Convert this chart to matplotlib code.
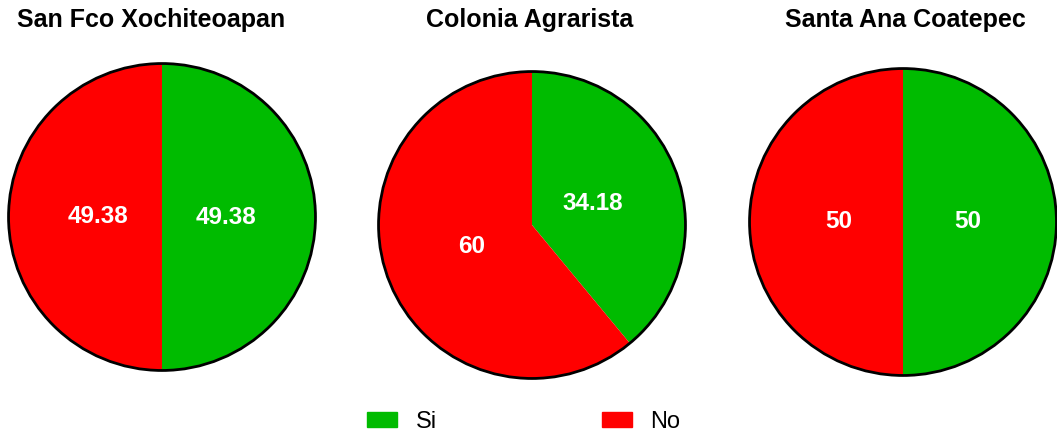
import matplotlib
matplotlib.use("Agg")
import matplotlib.pyplot as plt
from matplotlib.patches import Circle, Patch

plt.rcParams['font.family'] = ['Liberation Sans', 'DejaVu Sans']

# data
sites = ['San Fco Xochiteoapan', 'Colonia Agrarista', 'Santa Ana Coatepec']
categories = ['Si', 'No']
si_sizes = [50, 39, 50]
no_sizes = [50, 61, 50]
si_labels = ['49.38', '34.18', '50']
no_labels = ['49.38', '60', '50']

GREEN = '#00BB00'
RED = '#FF0000'

W, H = 1057, 432
fig = plt.figure(figsize=(W / 100, H / 100), dpi=100)

centers = [(162, 217), (532, 225), (903, 222)]
title_x = [151, 530, 905]
R = 155

for i, site in enumerate(sites):
    cx, cy = centers[i]
    ax = fig.add_axes([(cx - R) / W, (H - cy - R) / H, 2 * R / W, 2 * R / H])
    wedges, texts = ax.pie([si_sizes[i], no_sizes[i]],
                           labels=[si_labels[i], no_labels[i]],
                           colors=[GREEN, RED], startangle=90, counterclock=False,
                           labeldistance=0.42,
                           wedgeprops=dict(linewidth=0),
                           textprops=dict(color='white', fontsize=17.5, fontweight='bold',
                                          ha='center', va='center'))
    ax.add_patch(Circle((0, 0), 1, fill=False, edgecolor='black', linewidth=2))
    ax.set_xlim(-1.01, 1.01)
    ax.set_ylim(-1.01, 1.01)
    ax.set_aspect('equal')
    ax.axis('off')
    fig.text(title_x[i] / W, 1 - 20 / H, site, ha='center', va='center',
             fontsize=18, fontweight='bold')

handles = [Patch(color=GREEN, label=categories[0]), Patch(color=RED, label=categories[1])]
fig.legend(handles=handles, loc='center', bbox_to_anchor=(524 / W, 1 - 422 / H),
           ncol=2, frameon=False, fontsize=17, handlelength=1.25, handleheight=0.6,
           columnspacing=7.0, handletextpad=0.8)

fig.savefig('out.png', dpi=100)
